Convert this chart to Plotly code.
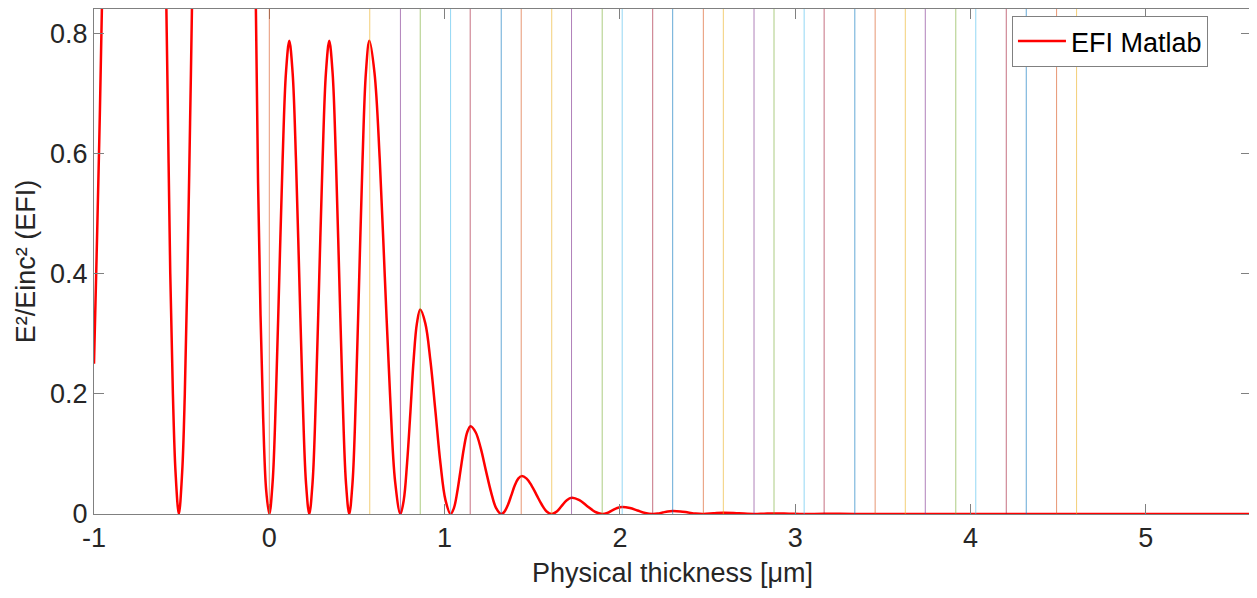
import plotly.graph_objects as go

# ---- data ----
efi_x = [
    -1.000, -0.985, -0.970, -0.955, -0.930, -0.890, -0.840, -0.770, -0.700, -0.650,
    -0.616, -0.594, -0.580, -0.565, -0.550, -0.535, -0.516, -0.497, -0.482, -0.467,
    -0.452, -0.438, -0.420, -0.380, -0.330, -0.260, -0.190, -0.140, -0.100, -0.080,
    -0.064, -0.050, -0.035, -0.018,
    0.000, 0.019, 0.038, 0.057, 0.076, 0.095, 0.114, 0.133, 0.152, 0.171, 0.190, 0.209,
    0.228, 0.247, 0.266, 0.285, 0.304, 0.323, 0.342, 0.361, 0.380, 0.399, 0.418, 0.437,
    0.456, 0.475, 0.494, 0.513, 0.532, 0.551, 0.571,
    0.600, 0.630, 0.659, 0.689, 0.718, 0.748,
    0.767, 0.786, 0.805, 0.823, 0.842, 0.861,
    0.890, 0.919, 0.948, 0.976, 1.005, 1.034,
    1.053, 1.072, 1.091, 1.110, 1.129, 1.148,
    1.177, 1.206, 1.235, 1.265, 1.294, 1.323,
    1.342, 1.362, 1.381, 1.400, 1.420, 1.439,
    1.468, 1.496, 1.525, 1.554, 1.582, 1.611,
    1.640, 1.668, 1.697, 1.725,
    1.769, 1.812, 1.856, 1.899,
    1.928, 1.956, 1.985, 2.013,
    2.057, 2.100, 2.144, 2.187,
    2.216, 2.244, 2.273, 2.301,
    2.345, 2.389, 2.432, 2.476,
    2.533, 2.590, 2.678, 2.765,
    2.822, 2.879, 2.965, 3.051,
    3.165, 3.340, 3.456, 3.628, 3.742, 3.916, 4.300, 4.605, 5.100, 5.600,
]
efi_y = [
    0.250, 0.430, 0.620, 0.840, 1.300, 2.200, 3.200, 4.000, 3.500, 2.500,
    1.500, 0.980, 0.700, 0.400, 0.200, 0.070, 0.000, 0.070, 0.200, 0.400,
    0.650, 0.900, 1.300, 2.300, 3.400, 4.000, 3.400, 2.300, 1.400, 0.920,
    0.550, 0.330, 0.160, 0.040,
    0.000, 0.053, 0.197, 0.394, 0.590, 0.734, 0.787, 0.734, 0.590, 0.394, 0.197, 0.053,
    0.000, 0.053, 0.197, 0.394, 0.590, 0.734, 0.787, 0.734, 0.590, 0.394, 0.197, 0.053,
    0.000, 0.053, 0.197, 0.394, 0.590, 0.734, 0.787,
    0.734, 0.590, 0.394, 0.197, 0.053, 0.000,
    0.023, 0.085, 0.170, 0.255, 0.317, 0.340,
    0.317, 0.255, 0.170, 0.085, 0.023, 0.000,
    0.0098, 0.0365, 0.073, 0.1095, 0.136, 0.146,
    0.136, 0.1095, 0.073, 0.0365, 0.0098, 0.000,
    0.0042, 0.0158, 0.0315, 0.0473, 0.0588, 0.063,
    0.0588, 0.0473, 0.0315, 0.0158, 0.0042, 0.000,
    0.004, 0.0135, 0.023, 0.027,
    0.023, 0.0135, 0.004, 0.000,
    0.0017, 0.0059, 0.010, 0.0117,
    0.010, 0.0059, 0.0017, 0.000,
    0.0007, 0.0025, 0.0043, 0.005,
    0.0043, 0.0025, 0.0007, 0.000,
    0.0011, 0.0022, 0.0011, 0.000,
    0.0005, 0.0010, 0.0005, 0.000,
    0.0004, 0.000, 0.0002, 0.000, 0.0001, 0.000, 0.000, 0.000, 0.000, 0.000,
]

layer_boundaries = [
    0.000, 0.573, 0.748, 0.861, 1.034, 1.146, 1.323, 1.437, 1.611, 1.724,
    1.899, 2.013, 2.187, 2.301, 2.476, 2.590, 2.765, 2.879, 3.051, 3.165,
    3.340, 3.456, 3.628, 3.742, 3.916, 4.030, 4.204, 4.318, 4.491, 4.605,
]

x_ticks = [-1, 0, 1, 2, 3, 4, 5]
y_ticks = [0, 0.2, 0.4, 0.6, 0.8]

# MATLAB default colour order, starting from the 2nd colour
line_colors = ["#D95319", "#EDB120", "#7E2F8E", "#77AC30", "#4DBEEE", "#A2142F", "#0072BD"]

FONT = "Liberation Sans, Arial, Helvetica, sans-serif"
TXT = "#262626"
AX = "#808080"

fig = go.Figure()
fig.add_trace(go.Scatter(
    x=efi_x, y=efi_y, mode="lines", name="EFI Matlab",
    line=dict(color="#FF0000", width=2.5, shape="spline", smoothing=1.0),
))

for i, b in enumerate(layer_boundaries):
    fig.add_vline(x=b, line=dict(color=line_colors[i % len(line_colors)], width=1), opacity=0.6)

fig.update_layout(
    width=1249, height=590,
    margin=dict(l=86, r=6, t=1, b=84),
    paper_bgcolor="white", plot_bgcolor="white",
    font=dict(family=FONT, size=27, color=TXT),
    showlegend=True,
    legend=dict(
        x=0.9628, y=0.986, xanchor="right", yanchor="top",
        bgcolor="white", bordercolor=AX, borderwidth=1,
        font=dict(family=FONT, size=27, color="#000000"),
        itemwidth=48, tracegroupgap=0,
    ),
    xaxis=dict(
        range=[-1, 5.6], tickvals=x_ticks, ticktext=[str(v) for v in x_ticks],
        ticks="inside", ticklen=10, tickcolor=AX, tickwidth=1,
        showline=True, linecolor=AX, linewidth=1, mirror="allticks",
        showgrid=False, zeroline=False,
        title=dict(text="Physical thickness [μm]", font=dict(size=27, color=TXT), standoff=10),
        tickfont=dict(size=27, color=TXT),
    ),
    yaxis=dict(
        range=[0, 0.84], tickvals=y_ticks, ticktext=["0", "0.2", "0.4", "0.6", "0.8"],
        ticks="inside", ticklen=10, tickcolor=AX, tickwidth=1,
        showline=True, linecolor=AX, linewidth=1, mirror="allticks",
        showgrid=False, zeroline=False,
        title=dict(text="E²/Einc² (EFI)", font=dict(size=27, color=TXT), standoff=6),
        tickfont=dict(size=27, color=TXT),
    ),
)

fig.write_html("out.html")
